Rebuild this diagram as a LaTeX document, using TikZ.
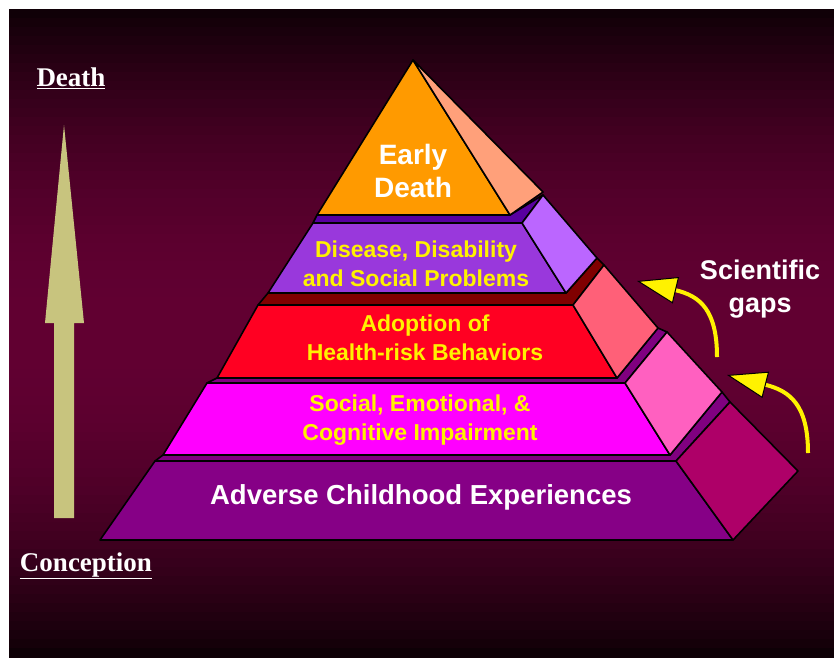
\documentclass[tikz,border=0pt]{standalone}
\usepackage{fontspec}
\setmainfont{Liberation Serif}
\setsansfont{Liberation Sans}
\usetikzlibrary{arrows.meta}

\definecolor{bgdark}{RGB}{14,0,6}
\definecolor{bgmid}{RGB}{98,0,50}
\definecolor{khaki}{RGB}{200,196,126}
\definecolor{orangeF}{RGB}{255,154,0}
\definecolor{orangeS}{RGB}{255,160,122}
\definecolor{disF}{RGB}{153,56,220}
\definecolor{disS}{RGB}{187,102,255}
\definecolor{disT}{RGB}{88,0,160}
\definecolor{redF}{RGB}{255,0,34}
\definecolor{redS}{RGB}{255,96,120}
\definecolor{redT}{RGB}{128,0,0}
\definecolor{magF}{RGB}{255,0,255}
\definecolor{magS}{RGB}{255,96,192}
\definecolor{purT}{RGB}{128,0,128}
\definecolor{aceF}{RGB}{134,0,134}
\definecolor{aceS}{RGB}{174,0,104}

\begin{document}
\begin{tikzpicture}[
  x=1pt, y=-1pt,
  face/.style={draw=black,line width=1.6pt,line join=round},
  wlabel/.style={text=white,font=\sffamily\bfseries,align=center},
  ylabel/.style={text=yellow,font=\sffamily\bfseries\fontsize{23}{29}\selectfont,align=center},
  axislabel/.style={text=white,font=\bfseries\fontsize{27}{30}\selectfont},
  gaparrow/.style={draw=yellow,line width=4pt,
    -{Triangle[length=40pt,width=27pt,fill=yellow,color=black,line width=1pt 0 0]}}
]
  \useasboundingbox (0,0) rectangle (834,657);

  % background
  \fill[white] (0,0) rectangle (834,657);
  \foreach \i in {0,...,71} {
    \pgfmathtruncatemacro\w{100*(1-(2*(\i+0.5)/72-1)^2)}
    \fill[bgmid!\w!bgdark] (9,9+9*\i) rectangle (834,18.6+9*\i);
  }
  \fill[bgdark] (9,648) rectangle (834,657);

  % time arrow
  \fill[khaki] (54,518) -- (54,323) -- (45,323) -- (64,125) -- (84,323)
    -- (74,323) -- (74,518) -- cycle;

  % adverse childhood experiences
  \filldraw[face,fill=purT] (155,461) -- (676,461) -- (730,402) -- (722,392) -- (670,455) -- (163,455) -- cycle;
  \filldraw[face,fill=aceF] (155,461) -- (676,461) -- (733,540) -- (100,540) -- cycle;
  \filldraw[face,fill=aceS] (676,461) -- (730,402) -- (798,471) -- (733,540) -- cycle;

  % social, emotional, cognitive
  \filldraw[face,fill=purT] (207,383) -- (625,383) -- (667,332) -- (658,328) -- (617,378) -- (217,378) -- cycle;
  \filldraw[face,fill=magF] (207,383) -- (625,383) -- (670,455) -- (163,455) -- cycle;
  \filldraw[face,fill=magS] (625,383) -- (667,332) -- (722,392) -- (670,455) -- cycle;

  % health-risk behaviors
  \filldraw[face,fill=redT] (258,305) -- (573,305) -- (604,265) -- (597,258) -- (566,293) -- (268,293) -- cycle;
  \filldraw[face,fill=redF] (258,305) -- (573,305) -- (617,378) -- (217,378) -- cycle;
  \filldraw[face,fill=redS] (573,305) -- (604,265) -- (658,328) -- (617,378) -- cycle;

  % disease, disability
  \filldraw[face,fill=disT] (313,223) -- (522,223) -- (543,195) -- (510,215) -- (317,215) -- cycle;
  \filldraw[face,fill=disF] (313,223) -- (522,223) -- (566,293) -- (268,293) -- cycle;
  \filldraw[face,fill=disS] (522,223) -- (543,195) -- (597,258) -- (566,293) -- cycle;

  % early death
  \filldraw[face,fill=orangeF] (413,60) -- (510,215) -- (317,215) -- cycle;
  \filldraw[face,fill=orangeS] (413,60) -- (543,192) -- (510,215) -- cycle;

  % layer labels
  \node[wlabel,font=\sffamily\bfseries\fontsize{28}{33}\selectfont] (early) at (413,171) {Early\\Death};
  \node[ylabel] (disease) at (416,264) {Disease, Disability\\and Social Problems};
  \node[ylabel] (adoption) at (425,338) {Adoption of\\Health-risk Behaviors};
  \node[ylabel] (social) at (420,420) {Social, Emotional, \&\\Cognitive Impairment};
  \node[wlabel,font=\sffamily\bfseries\fontsize{27.5}{33}\selectfont] (ace) at (421,497) {Adverse Childhood Experiences};

  % side labels
  \node[wlabel,font=\sffamily\bfseries\fontsize{27}{33}\selectfont] (gaps) at (760,289) {Scientific\\gaps};
  \node[axislabel] (death) at (71,78) {\underline{Death}};
  \node[axislabel] (conception) at (86,566) {\underline{Conception}};

  % gap arrows
  \coordinate (g1s) at (717,357);
  \coordinate (g1e) at (637,281);
  \coordinate (g2s) at (808,453);
  \coordinate (g2e) at (727,375);
  \draw[gaparrow] (g1s) .. controls (717,310) and (700,296) .. (g1e);
  \draw[gaparrow] (g2s) .. controls (808,405) and (790,391) .. (g2e);

\end{tikzpicture}
\end{document}
